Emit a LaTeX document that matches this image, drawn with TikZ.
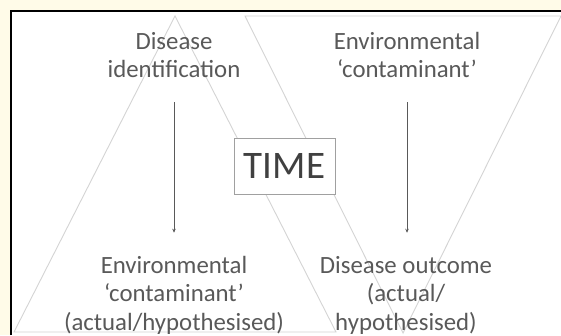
\documentclass[tikz,border=0pt]{standalone}
\usepackage{fontspec}
\setmainfont{Carlito}
\usetikzlibrary{arrows.meta}
\definecolor{cream}{RGB}{255,251,232}
\definecolor{txt}{RGB}{89,89,89}
\definecolor{tri}{RGB}{212,212,212}
\definecolor{boxgray}{RGB}{160,160,160}
\definecolor{timetxt}{RGB}{64,64,64}
\tikzset{
  lbl/.style={align=center, inner sep=0pt, text=txt, font=\fontsize{24.8}{28.5}\selectfont},
  trishape/.style={draw=tri, line width=0.9pt},
  arr/.style={draw=txt, line width=0.8pt, -{Stealth[length=4pt,width=3.5pt]}},
  timebox/.style={draw=boxgray, line width=0.9pt, fill=white, minimum width=101pt, minimum height=56pt, inner sep=0pt, text=timetxt, font=\fontsize{39}{42}\selectfont}
}
\begin{document}
\begin{tikzpicture}[x=1pt,y=-1pt]
\fill[cream] (0,0) rectangle (561,335);
\fill[white] (11,11) rectangle (561,335);
\useasboundingbox (0,0) rectangle (561,335);
% triangles
\draw[trishape] (175,16) -- (336,332) -- (14,332) -- cycle;
\draw[trishape] (245,16) -- (561,16) -- (403,333) -- cycle;
% border
\draw[black, line width=2pt] (11,335) -- (11,11) -- (561,11);
% labels
\node[lbl] (d1) at (174,55) {Disease\\identification};
\node[lbl] (e1) at (407,55) {Environmental\\‘contaminant’};
\node[lbl] (e2) at (174,295) {Environmental\\‘contaminant’\\(actual/hypothesised)};
\node[lbl] (o2) at (406,295) {Disease outcome\\(actual/\\hypothesised)};
\node[timebox] (t) at (284.5,166) {TIME};
% arrows
\draw[arr, shorten <=24pt, shorten >=23pt] (d1.south) -- (d1.south |- e2.north);
\draw[arr, shorten <=24pt, shorten >=23pt] (e1.south) -- (e1.south |- o2.north);
\end{tikzpicture}
\end{document}
